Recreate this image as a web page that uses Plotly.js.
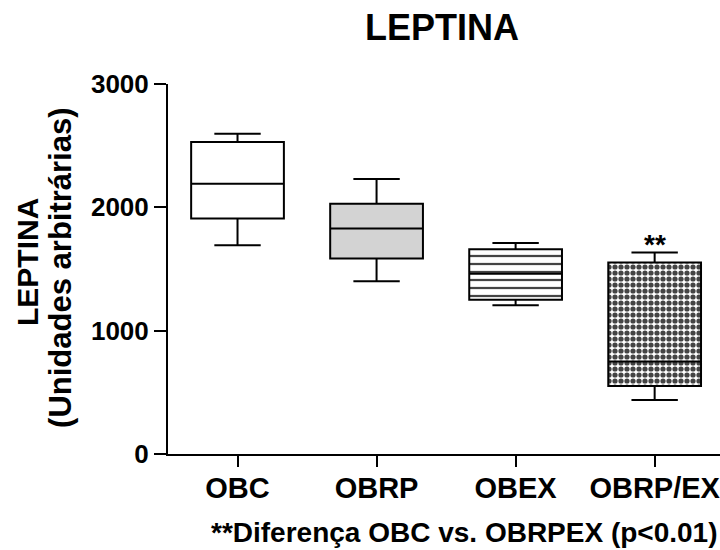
<!DOCTYPE html>
<html>
<head>
<meta charset="utf-8">
<script src="https://cdn.plot.ly/plotly-3.0.1.min.js"></script>
<style>html,body{margin:0;padding:0;background:#fff;overflow:hidden}</style>
</head>
<body>
<div id="chart" style="width:720px;height:550px"></div>
<script>
// Data
const groups = ["OBC", "OBRP", "OBEX", "OBRP/EX"];
const lowerWhisker = [1693, 1401, 1207, 438];
const q1Values = [1909, 1585, 1250, 552];
const medianValues = [2191, 1829, 1461, 749];
const q3Values = [2529, 2029, 1661, 1553];
const upperWhisker = [2597, 2229, 1710, 1634];
const yTicks = [0, 1000, 2000, 3000];
const chartTitle = "LEPTINA";
const yTitleLine1 = "LEPTINA";
const yTitleLine2 = "(Unidades arbitrárias)";
const footnote = "**Diferença OBC vs. OBRPEX (p<0.01)";
const significance = "**";
const significantGroup = "OBRP/EX";

const FONT = "Liberation Sans, Arial, sans-serif";
const boxWidth = 0.667;

const fillTrace = {
  type: "bar",
  x: groups,
  base: q1Values,
  y: q3Values.map((v, i) => v - q1Values[i]),
  width: boxWidth,
  marker: {
    color: ["#ffffff", "#d3d3d3", "#ffffff", "#ffffff"],
    line: {width: 0},
    pattern: {
      shape: ["", "", "-", "."],
      fgcolor: "#000000",
      fgopacity: 1,
      size: [8, 8, 8, 6],
      solidity: [0.28, 0.28, 0.28, 0.6],
      fillmode: "overlay"
    }
  },
  hoverinfo: "skip",
  showlegend: false
};

const boxTrace = {
  type: "box",
  x: groups,
  q1: q1Values,
  median: medianValues,
  q3: q3Values,
  lowerfence: lowerWhisker,
  upperfence: upperWhisker,
  width: boxWidth,
  whiskerwidth: 0.5,
  fillcolor: "rgba(0,0,0,0)",
  line: {color: "#000000", width: 2},
  boxpoints: false,
  hoverinfo: "skip",
  showlegend: false
};

const sigIndex = groups.indexOf(significantGroup);

const layout = {
  width: 720,
  height: 550,
  margin: {l: 168, r: 0, t: 84, b: 96},
  paper_bgcolor: "#ffffff",
  plot_bgcolor: "#ffffff",
  font: {family: FONT, color: "#000000", weight: "bold"},
  showlegend: false,
  xaxis: {
    type: "category",
    categoryorder: "array",
    categoryarray: groups,
    range: [-0.5, 3.47],
    showline: true,
    linecolor: "#000000",
    linewidth: 2,
    ticks: "outside",
    ticklen: 11,
    tickwidth: 2,
    tickcolor: "#000000",
    showgrid: false,
    zeroline: false,
    tickfont: {family: FONT, size: 29, weight: "bold", color: "#000000"},
    ticklabelstandoff: -4
  },
  yaxis: {
    range: [0, 3000],
    tickvals: yTicks,
    ticktext: yTicks.map(String),
    showline: true,
    linecolor: "#000000",
    linewidth: 2,
    ticks: "outside",
    ticklen: 12,
    tickwidth: 2,
    tickcolor: "#000000",
    showgrid: false,
    zeroline: false,
    tickfont: {family: FONT, size: 26, weight: "bold", color: "#000000"},
    ticklabelstandoff: 0
  },
  annotations: [
    {
      text: chartTitle, xref: "paper", yref: "paper",
      x: 0.496, y: 1.152, xanchor: "center", yanchor: "middle",
      showarrow: false, font: {family: FONT, size: 36, weight: "bold", color: "#000"}
    },
    {
      text: yTitleLine1, xref: "paper", yref: "paper",
      x: (28 - 168) / 552, y: 0.519, xanchor: "center", yanchor: "middle",
      textangle: -90, showarrow: false,
      font: {family: FONT, size: 30, weight: "bold", color: "#000"}
    },
    {
      text: yTitleLine2, xref: "paper", yref: "paper",
      x: (61 - 168) / 552, y: 0.503, xanchor: "center", yanchor: "middle",
      textangle: -90, showarrow: false,
      font: {family: FONT, size: 31, weight: "bold", color: "#000"}
    },
    {
      text: footnote, xref: "paper", yref: "paper",
      x: 0.538, y: -0.212, xanchor: "center", yanchor: "middle",
      showarrow: false, font: {family: FONT, size: 28, weight: "bold", color: "#000"}
    },
    {
      text: significance, xref: "x", yref: "y",
      x: significantGroup, y: upperWhisker[sigIndex],
      xanchor: "center", yanchor: "bottom", yshift: -10,
      showarrow: false, font: {family: FONT, size: 28, weight: "bold", color: "#000"}
    }
  ]
};

Plotly.newPlot("chart", [fillTrace, boxTrace], layout, {displayModeBar: false, staticPlot: true});
</script>
</body>
</html>
